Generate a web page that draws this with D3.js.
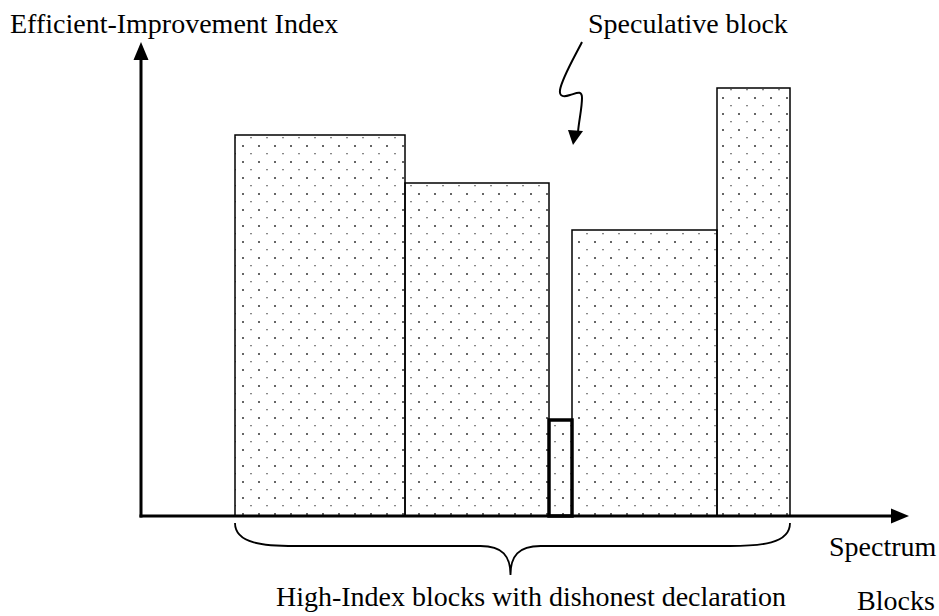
<!DOCTYPE html>
<html>
<head>
<meta charset="utf-8">
<script src="https://cdn.jsdelivr.net/npm/d3@7"></script>
<style>
  body { margin: 0; background: #fff; }
  text { font-family: "Liberation Serif", "Times New Roman", serif; fill: #000; }
</style>
</head>
<body>
<script>
// block data (spectrum start / end, index height)
var blockNames = ["b1", "b2", "spec", "b4", "b5"];
var blockStart = [94, 264, 408, 431, 576];
var blockEnd = [264, 408, 431, 576, 649];
var blockIndex = [381, 333, 96, 286, 428];
var blockSpeculative = [false, false, true, false, false];

var width = 939, height = 616;

var svg = d3.select("body").append("svg")
    .attr("width", width)
    .attr("height", height);

var x = d3.scaleLinear().domain([0, 800]).range([141, 941]);
var y = d3.scaleLinear().domain([0, 480]).range([516, 36]);

// dotted fill pattern
var defs = svg.append("defs");
var pat = defs.append("pattern")
    .attr("id", "dots")
    .attr("patternUnits", "userSpaceOnUse")
    .attr("width", 16)
    .attr("height", 16)
    .attr("x", 2)
    .attr("y", 1);
pat.append("rect").attr("x", 0).attr("y", 0).attr("width", 2).attr("height", 2).attr("fill", "#666");
pat.append("rect").attr("x", 8).attr("y", 8).attr("width", 2).attr("height", 1.3).attr("fill", "#888");

// bars
svg.selectAll("rect.block")
  .data(blockNames)
  .enter().append("rect")
    .attr("class", "block")
    .attr("x", (d, i) => x(blockStart[i]))
    .attr("y", (d, i) => y(blockIndex[i]))
    .attr("width", (d, i) => x(blockEnd[i]) - x(blockStart[i]))
    .attr("height", (d, i) => y(0) - y(blockIndex[i]))
    .attr("fill", "url(#dots)")
    .attr("stroke", "#000")
    .attr("stroke-width", (d, i) => blockSpeculative[i] ? 3.5 : 1.5);

// axes
svg.append("line")
    .attr("x1", x(0)).attr("y1", y(0) + 1.5)
    .attr("x2", x(0)).attr("y2", 50)
    .attr("stroke", "#000").attr("stroke-width", 3);
svg.append("path")
    .attr("d", "M" + x(0) + ",42 l-7.5,18 l15,0 Z")
    .attr("fill", "#000");

svg.append("line")
    .attr("x1", x(0) - 1.5).attr("y1", y(0))
    .attr("x2", 900).attr("y2", y(0))
    .attr("stroke", "#000").attr("stroke-width", 3);
svg.append("path")
    .attr("d", "M909," + y(0) + " l-18,-7.5 l0,15 Z")
    .attr("fill", "#000");

// brace under the high-index blocks
var bx0 = x(blockStart[0]), bx1 = x(blockEnd[blockEnd.length - 1]);
var bm = (bx0 + bx1) / 2 - 2;
var by0 = 523, by1 = 546, tip = 575;
svg.append("path")
    .attr("d", "M" + bx0 + "," + by0 +
      " C" + bx0 + "," + (by1 - 2) + " " + (bx0 + 30) + "," + by1 + " " + (bx0 + 60) + "," + by1 +
      " L" + (bm - 30) + "," + by1 +
      " C" + (bm - 8) + "," + by1 + " " + bm + "," + (by1 + 10) + " " + bm + "," + tip +
      " C" + bm + "," + (by1 + 10) + " " + (bm + 8) + "," + by1 + " " + (bm + 30) + "," + by1 +
      " L" + (bx1 - 60) + "," + by1 +
      " C" + (bx1 - 30) + "," + by1 + " " + bx1 + "," + (by1 - 2) + " " + bx1 + "," + by0)
    .attr("fill", "none")
    .attr("stroke", "#000")
    .attr("stroke-width", 1.8);

// squiggle arrow to the speculative block
svg.append("path")
    .attr("d", "M582,42 C575,56 562,78 560,90 C559,97 564,97 570,95 C577,93 582,90 582,98 C582,108 579,120 578,132")
    .attr("fill", "none")
    .attr("stroke", "#000")
    .attr("stroke-width", 2);
svg.append("path")
    .attr("d", "M573,145 L568,130 L583,131 Z")
    .attr("fill", "#000");

// labels
var fs = 28;
svg.append("text").attr("x", 10).attr("y", 33).attr("font-size", fs)
    .text("Efficient-Improvement Index");
svg.append("text").attr("x", 588).attr("y", 33).attr("font-size", fs)
    .text("Speculative block");
svg.append("text").attr("x", 829).attr("y", 556).attr("font-size", fs)
    .text("Spectrum");
svg.append("text").attr("x", 857).attr("y", 610).attr("font-size", fs)
    .text("Blocks");
svg.append("text").attr("x", 531).attr("y", 606).attr("font-size", fs)
    .attr("text-anchor", "middle")
    .text("High-Index blocks with dishonest declaration");
</script>
</body>
</html>
